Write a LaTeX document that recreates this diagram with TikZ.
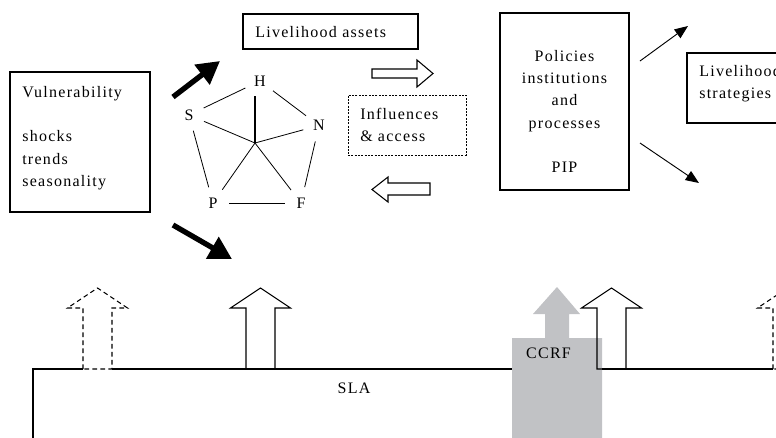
\documentclass[tikz,border=0pt]{standalone}
\usepackage{fontspec}
\setmainfont[LetterSpace=8]{Liberation Serif}
\usetikzlibrary{arrows.meta}
\definecolor{ccrfgray}{RGB}{193,194,197}
\tikzstyle{box} = [draw, line width=0.8pt, inner sep=0pt]
\tikzstyle{txt} = [inner sep=0pt, font=\fontsize{12}{16.7}\selectfont]
\tikzstyle{vertex} = [circle, inner sep=0pt, minimum size=24pt, font=\fontsize{12}{14}\selectfont]
\tikzstyle{side} = [line width=0.6pt]
\tikzstyle{fatarrow} = [line width=4pt, -{Triangle[length=17pt,width=18pt]}]
\tikzstyle{thinarrow} = [line width=0.7pt, -{Triangle[length=10pt,width=8pt]}]
\tikzstyle{hollow} = [line width=0.8pt, line join=miter]
\tikzset{uparr/.pic={\draw[hollow,pic actions] (-14.5,0) -- (-14.5,-61) -- (-30,-61) -- (0,-81) -- (30,-61) -- (14.5,-61) -- (14.5,0) -- cycle;}}

\begin{document}
\begin{tikzpicture}[x=0.75pt,y=-0.75pt]
	\clip (0,0) rectangle (776,437);
	% boxes
	\node [box, minimum width=105pt, minimum height=105pt] at (80,142) (vul) {};
	\node [txt, anchor=north west, align=left] at (22,86) (vultxt) {Vulnerability\\[16.7pt]shocks\\trends\\seasonality};
	\node [box, minimum width=131.25pt, minimum height=26.25pt] at (330.5,31.5) (assets) {};
	\node [txt, anchor=base west] at (255,37.3) (assetstxt) {Livelihood assets};
	\node [box, dash pattern=on 1.5pt off 1pt, line width=0.6pt, minimum width=88.5pt, minimum height=45pt] at (407,125) (infl) {};
	\node [txt, anchor=north west, align=left] at (360,108) (infltxt) {Influences\\\& access};
	\node [box, minimum width=96.75pt, minimum height=132.75pt] at (564.5,101.5) (pip) {};
	\node [txt, anchor=north, align=center] at (564.5,50) (piptxt) {Policies\\institutions\\and\\processes\\[16.7pt]PIP};
	\node [box, minimum width=84.75pt, minimum height=52.5pt] at (743.5,88) (strat) {};
	\node [txt, anchor=north west, align=left] at (699,65) (strattxt) {Livelihood\\strategies};

	% pentagon of assets
	\node [vertex] at (260,81) (H) {H};
	\node [vertex] at (189,115) (S) {S};
	\node [vertex] at (319,125.5) (N) {N};
	\node [vertex] at (213,203) (P) {P};
	\node [vertex] at (301,203) (F) {F};
	\coordinate (ctr) at (255,143);
	\draw [side] (H) -- (S);
	\draw [side] (H) -- (N);
	\draw [side] (N) -- (F);
	\draw [side] (S) -- (P);
	\draw [side] (P) -- (F);
	\draw [line width=1.3pt] (ctr) -- (255,96);
	\draw [side] (ctr) -- (S);
	\draw [side] (ctr) -- (N);
	\draw [side] (ctr) -- (P);
	\draw [side] (ctr) -- (F);

	% arrows
	\coordinate (up1) at (173,97);
	\coordinate (up2) at (220,61);
	\coordinate (dn1) at (173,225);
	\coordinate (dn2) at (232,259);
	\coordinate (o1) at (640,61);
	\coordinate (o2) at (688,26);
	\coordinate (o3) at (640,143);
	\coordinate (o4) at (699,183);
	\draw [fatarrow] (up1) -- (up2);
	\draw [fatarrow] (dn1) -- (dn2);
	\draw [thinarrow] (o1) -- (o2);
	\draw [thinarrow] (o3) -- (o4);
	\draw [hollow] (372,69) -- (417,69) -- (417,60) -- (433,73.5) -- (417,87) -- (417,78) -- (372,78) -- cycle;
	\draw [hollow] (430,183) -- (388,183) -- (388,177) -- (372,189.5) -- (388,202) -- (388,195) -- (430,195) -- cycle;

	% SLA and CCRF
	\fill [ccrfgray] (512,440) -- (512,338) -- (545,338) -- (545,314) -- (533,314) -- (557,287) -- (580,314) -- (569,314) -- (569,338) -- (602,338) -- (602,440) -- cycle;
	\draw [hollow] (33,440) -- (33,369) -- (83,369);
	\draw [hollow] (112,369) -- (512,369);
	\draw [hollow] (602,369) -- (773,369);
	\pic [dash pattern=on 3.5pt off 2.5pt] at (97.5,369) {uparr};
	\pic at (260.5,369) {uparr};
	\pic at (611.5,369) {uparr};
	\pic [dash pattern=on 3.5pt off 2.5pt] at (787.5,369) {uparr};
	\node [txt, anchor=base] at (354,393) (sla) {SLA};
	\node [txt, anchor=base] at (548.5,358) (ccrf) {CCRF};
\end{tikzpicture}
\end{document}
